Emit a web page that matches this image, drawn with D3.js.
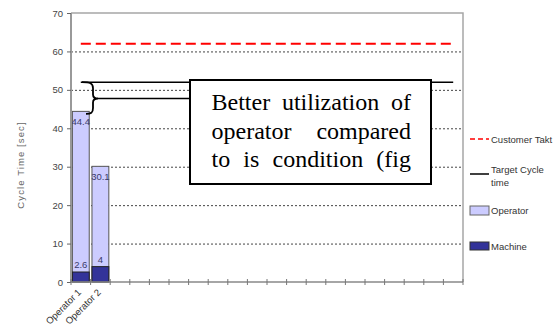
<!DOCTYPE html>
<html><head><meta charset="utf-8">
<script src="https://cdn.jsdelivr.net/npm/d3@7"></script>
<style>
html,body{margin:0;padding:0;background:#fff;}
svg{display:block;font-family:"Liberation Sans",Arial,sans-serif;}
</style></head>
<body>
<svg id="chart" width="560" height="333"></svg>
<script>
// ---- data ----
const categories = ["Operator 1","Operator 2","","","","","","","","","","","","","","","","","",""];
const operatorValues = [44.4, 30.1];
const machineValues = [2.6, 4];
const customerTakt = [62,62,62,62,62,62,62,62,62,62,62,62,62,62,62,62,62,62,62,62];
const targetCycle = [52,52,52,52,52,52,52,52,52,52,52,52,52,52,52,52,52,52,52,52];
const yTicks = [0,10,20,30,40,50,60,70];
const legendLabels = ["Customer Takt","Target Cycle time","Operator","Machine"];
const annotationLines = ["Better utilization of","operator   compared","to  is  condition  (fig"];
const yTitle = "Cycle Time [sec]";

// ---- layout ----
const svg = d3.select("#chart");
const plot = {left:71, right:463, top:13, bottom:282};
const x = d3.scaleBand().domain(d3.range(categories.length)).range([plot.left, plot.right]).paddingInner(0.14).paddingOuter(0.07);
const xc = i => x(i) + x.bandwidth()/2;
const step = (plot.right - plot.left)/categories.length;
const y = d3.scaleLinear().domain([0,70]).range([plot.bottom, plot.top]);

// gridlines
svg.append("g").selectAll("line").data(yTicks.filter(t=>t>0 && t<70)).join("line")
  .attr("x1", plot.left).attr("x2", plot.right)
  .attr("y1", d=>y(d)+0.5).attr("y2", d=>y(d)+0.5)
  .attr("stroke","#444").attr("stroke-width",1).attr("stroke-dasharray","2,2");

// plot border (top & right)
svg.append("path").attr("d",`M${plot.left},${plot.top}H${plot.right}V${plot.bottom}`)
  .attr("fill","none").attr("stroke","#a6a6a6").attr("stroke-width",1.5);

// bars: operator (back), machine (front)
svg.append("g").selectAll("rect").data(operatorValues).join("rect")
  .attr("x",(d,i)=>x(i)).attr("width",x.bandwidth())
  .attr("y",d=>y(d)).attr("height",d=>y(0)-y(d))
  .attr("fill","#ccccff").attr("stroke","#555").attr("stroke-width",1);
svg.append("g").selectAll("rect").data(machineValues).join("rect")
  .attr("x",(d,i)=>x(i)).attr("width",x.bandwidth())
  .attr("y",d=>y(d)).attr("height",d=>y(0)-y(d))
  .attr("fill","#333399").attr("stroke","#222").attr("stroke-width",1);

// bar labels
svg.append("g").selectAll("text").data(operatorValues).join("text")
  .attr("x",(d,i)=>xc(i)).attr("y",d=>y(d)+14)
  .attr("text-anchor","middle").attr("font-size",9.5).attr("fill","#3a3a6a").text(d=>d);
svg.append("g").selectAll("text").data(machineValues).join("text")
  .attr("x",(d,i)=>xc(i)).attr("y",d=>y(d)-4)
  .attr("text-anchor","middle").attr("font-size",9.5).attr("fill","#3a3a6a").text(d=>d);

// lines
const line = d3.line().x((d,i)=>xc(i)).y(d=>y(d));
svg.append("path").datum(customerTakt).attr("d",line)
  .attr("fill","none").attr("stroke","#ff0000").attr("stroke-width",2).attr("stroke-dasharray","10,5");
svg.append("path").datum(targetCycle).attr("d",line)
  .attr("fill","none").attr("stroke","#000").attr("stroke-width",1.5);

// axes
svg.append("line").attr("x1",plot.left).attr("x2",plot.left).attr("y1",plot.top).attr("y2",plot.bottom)
  .attr("stroke","#999").attr("stroke-width",2);
svg.append("line").attr("x1",plot.left).attr("x2",plot.right).attr("y1",plot.bottom).attr("y2",plot.bottom)
  .attr("stroke","#888").attr("stroke-width",1.5);
// y ticks
svg.append("g").selectAll("line").data(yTicks).join("line")
  .attr("x1",plot.left-4).attr("x2",plot.left).attr("y1",d=>y(d)+0.5).attr("y2",d=>y(d)+0.5)
  .attr("stroke","#666");
svg.append("g").selectAll("text").data(yTicks).join("text")
  .attr("x",plot.left-8).attr("y",d=>y(d)+3.5).attr("text-anchor","end")
  .attr("font-size",9.5).attr("fill","#444").text(d=>d);
// x ticks at category boundaries
svg.append("g").selectAll("line").data(d3.range(categories.length+1)).join("line")
  .attr("x1",d=>plot.left+d*step).attr("x2",d=>plot.left+d*step)
  .attr("y1",plot.bottom-3).attr("y2",plot.bottom+3)
  .attr("stroke","#777").attr("stroke-width",1);
// x labels
svg.append("g").selectAll("text").data(categories).join("text")
  .attr("transform",(d,i)=>`translate(${xc(i)+1},${plot.bottom+11}) rotate(-45)`)
  .attr("text-anchor","end").attr("font-size",9.5).attr("fill","#333").text(d=>d);

// y title
svg.append("text").attr("transform","translate(24,165) rotate(-90)")
  .attr("text-anchor","middle").attr("font-size",9.5).attr("letter-spacing",1.1)
  .attr("fill","#666").text(yTitle);

// annotation brace + leader line
const yTop = y(52), yBot = y(44.4)+2.5, yMid = 98.5;
svg.append("path")
  .attr("d",`M82,${yTop} C90,${yTop} 93,${yTop+1} 93,${yTop+6} L93,${yMid-4} C93,${yMid-1} 95,${yMid} 98,${yMid} C95,${yMid} 93,${yMid+1} 93,${yMid+4} L93,${yBot-6} C93,${yBot-1} 91,${yBot} 86,${yBot}`)
  .attr("fill","none").attr("stroke","#000").attr("stroke-width",1.8);
svg.append("line").attr("x1",98).attr("x2",190).attr("y1",yMid).attr("y2",yMid)
  .attr("stroke","#000").attr("stroke-width",1.5);

// annotation text box
svg.append("rect").attr("x",190).attr("y",80).attr("width",241).attr("height",104)
  .attr("fill","#fff").attr("stroke","#000").attr("stroke-width",2);
const tl = 211.5, tr = 411;
annotationLines.forEach((ln,li)=>{
  const words = ln.split(/\s+/);
  const g = svg.append("g");
  const widths = words.map(w=>{
    const t = g.append("text").style("font-family","'Liberation Serif','Times New Roman',serif")
      .attr("font-size",24).attr("fill","#000").text(w);
    const wd = t.node().getComputedTextLength();
    return {t,wd};
  });
  const total = d3.sum(widths,d=>d.wd);
  const gap = (tr-tl-total)/(words.length-1);
  let cx = tl;
  widths.forEach(o=>{ o.t.attr("x",cx).attr("y",110+li*28.5); cx += o.wd+gap; });
});

// legend
const lg = svg.append("g").attr("font-size",9.5).attr("fill","#333");
lg.append("line").attr("x1",470).attr("x2",489).attr("y1",139).attr("y2",139)
  .attr("stroke","#ff0000").attr("stroke-width",1.5).attr("stroke-dasharray","5,3");
lg.append("text").attr("x",491).attr("y",142.5).text(legendLabels[0]);
lg.append("line").attr("x1",470).attr("x2",489).attr("y1",174).attr("y2",174)
  .attr("stroke","#000").attr("stroke-width",1.5);
lg.append("text").attr("x",491).attr("y",172.5).text("Target Cycle");
lg.append("text").attr("x",491).attr("y",186).text("time");
lg.append("rect").attr("x",470).attr("y",206).attr("width",19).attr("height",9)
  .attr("fill","#ccccff").attr("stroke","#666");
lg.append("text").attr("x",491).attr("y",214).text(legendLabels[2]);
lg.append("rect").attr("x",470).attr("y",242).attr("width",19).attr("height",8)
  .attr("fill","#333399").attr("stroke","#333");
lg.append("text").attr("x",491).attr("y",250).text(legendLabels[3]);
</script>
</body></html>
